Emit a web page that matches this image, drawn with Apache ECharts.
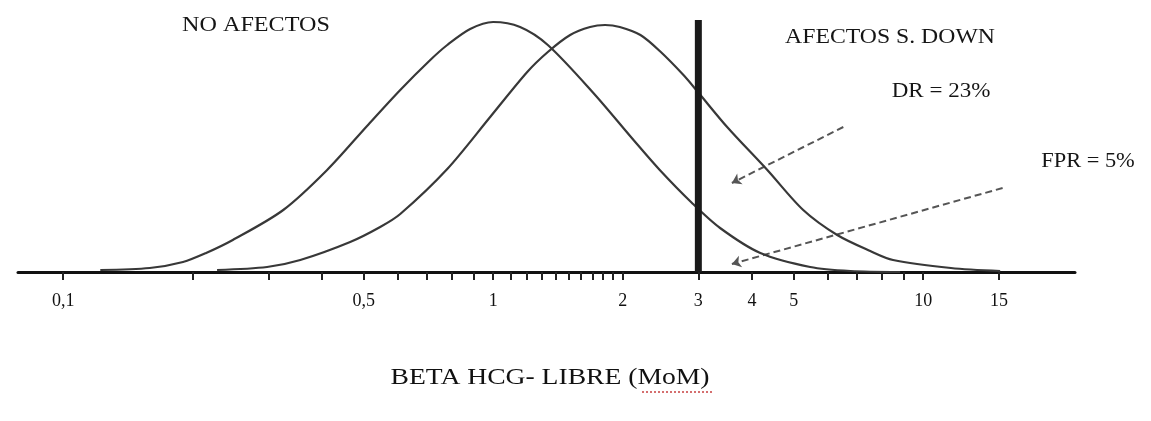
<!DOCTYPE html>
<html>
<head>
<meta charset="utf-8">
<script src="https://cdn.jsdelivr.net/npm/echarts@6/dist/echarts.min.js"></script>
<style>
  html, body { margin: 0; padding: 0; background: #ffffff; }
  #chart { width: 1151px; height: 421px; }
</style>
</head>
<body>
<div id="chart"></div>
<script>
// ---- data (x in MoM, y in relative frequency units) ----
const noAfectosMoM = [0.122, 0.159, 0.190, 0.215, 0.248, 0.325, 0.411, 0.509, 0.608, 0.714, 0.782, 0.884, 1.0, 1.155, 1.34, 1.71, 2.12, 2.44, 2.90, 3.37, 4.18, 5.46, 6.77, 8.84];
const noAfectosFreq = [2, 4, 10, 19, 32, 62, 102, 146, 182, 212, 227, 243, 250, 245, 227, 179, 132, 102, 69, 44, 19, 5, 1, 0];

const afectosMoM = [0.228, 0.298, 0.356, 0.465, 0.546, 0.608, 0.782, 0.984, 1.20, 1.34, 1.51, 1.68, 1.82, 1.97, 2.20, 2.44, 2.77, 2.98, 3.50, 4.34, 5.26, 6.31, 7.53, 8.51, 11.6, 15.1];
const afectosFreq = [2, 5, 12, 30, 45, 58, 103, 155, 200, 220, 237, 245, 247, 245, 237, 221, 197, 181, 145, 102, 62, 37, 21, 12, 4, 1];

const cutoffMoM = 3;
const cutoffTop = 252;

const tickLabelValues = [0.1, 0.5, 1, 2, 3, 4, 5, 10, 15];
const tickLabels = ['0,1', '0,5', '1', '2', '3', '4', '5', '10', '15'];
const tickMarkValues = [0.1, 0.2, 0.3, 0.4, 0.5, 0.6, 0.7, 0.8, 0.9, 1.0, 1.1, 1.2, 1.3, 1.4, 1.5, 1.6, 1.7, 1.8, 1.9, 2.0, 3, 4, 5, 6, 7, 8, 9, 10, 15];

// annotation arrows (start, arrow head), in MoM / frequency units
const drArrow = [[6.52, 145], [3.59, 89]];
const fprArrow = [[15.3, 84], [3.59, 8]];

const axisTitle = 'BETA HCG- LIBRE (MoM)';
const labelNoAfectos = 'NO AFECTOS';
const labelAfectos = 'AFECTOS S. DOWN';
const labelDR = 'DR = 23%';
const labelFPR = 'FPR = 5%';

// ---- build options ----
const lg = v => Math.log10(v);
const toPts = (xs, ys) => xs.map((x, i) => [lg(x), ys[i]]);
const serif = '"Liberation Serif", "DejaVu Serif", serif';

const chart = echarts.init(document.getElementById('chart'), null, { renderer: 'canvas' });

const option = {
  backgroundColor: '#ffffff',
  animation: false,
  grid: { left: 18, right: 76, top: 20, bottom: 149, containLabel: false },
  xAxis: {
    type: 'value',
    min: -1.105,
    max: 1.353,
    splitLine: { show: false },
    axisLine: { show: true, lineStyle: { color: '#111', width: 3 } },
    axisTick: {
      show: true,
      customValues: tickMarkValues.map(lg),
      length: 8,
      lineStyle: { color: '#222', width: 2 }
    },
    axisLabel: {
      show: true,
      customValues: tickLabelValues.map(lg),
      margin: 20,
      fontFamily: serif,
      fontSize: 18,
      color: '#111',
      formatter: function (v) {
        for (let i = 0; i < tickLabelValues.length; i++) {
          if (Math.abs(lg(tickLabelValues[i]) - v) < 1e-6) return tickLabels[i];
        }
        return '';
      }
    }
  },
  yAxis: {
    type: 'value',
    min: 0,
    max: 252,
    show: false,
    splitLine: { show: false }
  },
  series: [
    {
      name: labelNoAfectos,
      type: 'line',
      data: toPts(noAfectosMoM, noAfectosFreq),
      smooth: 0.3,
      showSymbol: false,
      lineStyle: { color: '#383838', width: 2.2 }
    },
    {
      name: labelAfectos,
      type: 'line',
      data: toPts(afectosMoM, afectosFreq),
      smooth: 0.3,
      showSymbol: false,
      lineStyle: { color: '#383838', width: 2.2 }
    },
    {
      name: 'cutoff',
      type: 'line',
      data: [[lg(cutoffMoM), 0], [lg(cutoffMoM), cutoffTop]],
      showSymbol: false,
      clip: false,
      lineStyle: { color: '#1a1a1a', width: 7 }
    },
    {
      name: 'arrows',
      type: 'lines',
      coordinateSystem: 'cartesian2d',
      symbol: ['none', 'arrow'],
      symbolSize: 9,
      lineStyle: { color: '#555', width: 2, type: [7, 4], opacity: 1 },
      data: [
        { coords: drArrow.map(p => [lg(p[0]), p[1]]) },
        { coords: fprArrow.map(p => [lg(p[0]), p[1]]) }
      ]
    }
  ],
  graphic: [
    { type: 'text', x: 256, y: 25, scaleX: 1.15,
      style: { text: labelNoAfectos, fontFamily: serif, fontSize: 21, fill: '#151515', align: 'center', verticalAlign: 'middle' } },
    { type: 'text', x: 890, y: 37, scaleX: 1.13,
      style: { text: labelAfectos, fontFamily: serif, fontSize: 21, fill: '#151515', align: 'center', verticalAlign: 'middle' } },
    { type: 'text', x: 941, y: 92, scaleX: 1.15,
      style: { text: labelDR, fontFamily: serif, fontSize: 20, fill: '#151515', align: 'center', verticalAlign: 'middle' } },
    { type: 'text', x: 1088, y: 162, scaleX: 1.12,
      style: { text: labelFPR, fontFamily: serif, fontSize: 20, fill: '#151515', align: 'center', verticalAlign: 'middle' } },
    { type: 'text', x: 550, y: 378, scaleX: 1.2,
      style: { text: axisTitle, fontFamily: serif, fontSize: 23, fill: '#111', align: 'center', verticalAlign: 'middle' } },
    { type: 'line', shape: { x1: 642, y1: 392, x2: 712, y2: 392 },
      style: { stroke: '#c84040', lineWidth: 1.5, lineDash: [2, 2] } }
  ]
};

chart.setOption(option);
</script>
</body>
</html>
